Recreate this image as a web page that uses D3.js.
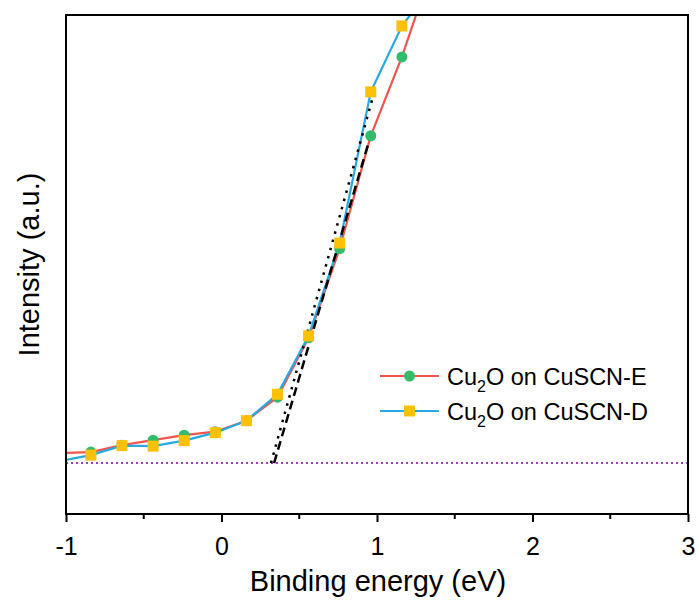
<!DOCTYPE html>
<html>
<head>
<meta charset="utf-8">
<script src="https://cdn.jsdelivr.net/npm/d3@7"></script>
<style>
  html, body { margin: 0; padding: 0; background: #fff; }
  svg { display: block; font-family: "Liberation Sans", Arial, sans-serif; }
</style>
</head>
<body>
<svg id="chart" width="699" height="610"></svg>
<script>
// ---- data ----
const energy = [-1.04, -0.84, -0.64, -0.44, -0.24, -0.04, 0.16, 0.36, 0.56, 0.76, 0.96, 1.16, 1.36];
const intensityE = [12.2, 12.4, 13.8, 14.8, 15.8, 16.5, 18.7, 23.4, 35.3, 53.2, 75.8, 91.6, 110];
const intensityD = [10.6, 11.8, 13.7, 13.6, 14.7, 16.3, 18.7, 24.0, 35.7, 54.3, 84.6, 97.8, 106];
const fitE = [[0.338, 10.2], [0.955, 75.4]];
const fitD = [[0.318, 10.2], [0.981, 84.4]];
const baseline = 10.2;
const xTicks = [-1, 0, 1, 2, 3];
const xMinor = [-0.5, 0.5, 1.5, 2.5];
const seriesNames = ["E", "D"];

// ---- layout ----
const svg = d3.select("#chart");
const L = 66, R = 688, T = 15, B = 514;
const x = d3.scaleLinear().domain([-1, 3]).range([L, R]);
const y = d3.scaleLinear().domain([0, 100]).range([B, T]);

svg.append("defs").append("clipPath").attr("id", "clip")
  .append("rect").attr("x", L).attr("y", T).attr("width", R - L).attr("height", B - T);

const plot = svg.append("g").attr("clip-path", "url(#clip)");

// baseline
plot.append("line")
  .attr("x1", L).attr("x2", R).attr("y1", y(baseline)).attr("y2", y(baseline))
  .attr("stroke", "#9b3fc4").attr("stroke-width", 2).attr("stroke-dasharray", "2,3");

const line = d3.line().x(d => x(d[0])).y(d => y(d[1]));
const dataE = energy.map((e, i) => [e, intensityE[i]]);
const dataD = energy.map((e, i) => [e, intensityD[i]]);

plot.append("path").datum(dataE).attr("d", line)
  .attr("fill", "none").attr("stroke", "#f2554d").attr("stroke-width", 2.2);
plot.append("path").datum(dataD).attr("d", line)
  .attr("fill", "none").attr("stroke", "#27a9e1").attr("stroke-width", 2.2);

// fit lines
plot.append("path").datum(fitE).attr("d", line)
  .attr("fill", "none").attr("stroke", "#000").attr("stroke-width", 2.5)
  .attr("stroke-dasharray", "9,5");
plot.append("path").datum(fitD).attr("d", line)
  .attr("fill", "none").attr("stroke", "#000").attr("stroke-width", 2.5)
  .attr("stroke-dasharray", "2.5,6");

// markers
plot.selectAll("circle.e").data(dataE).enter().append("circle")
  .attr("cx", d => x(d[0])).attr("cy", d => y(d[1])).attr("r", 5.5)
  .attr("fill", "#35bb6c");
plot.selectAll("rect.d").data(dataD).enter().append("rect")
  .attr("x", d => x(d[0]) - 5.5).attr("y", d => y(d[1]) - 5.5)
  .attr("width", 11).attr("height", 11).attr("fill", "#ffc107");

// frame
svg.append("rect").attr("x", L).attr("y", T).attr("width", R - L).attr("height", B - T)
  .attr("fill", "none").attr("stroke", "#000").attr("stroke-width", 2);

// bottom axis
const ax = svg.append("g").attr("transform", `translate(0,${B})`);
ax.call(d3.axisBottom(x).tickValues(xTicks).tickSize(8).tickFormat(d3.format("d")));
ax.select(".domain").remove();
ax.selectAll(".tick line").attr("stroke", "#000").attr("stroke-width", 2);
ax.selectAll(".tick text").attr("font-size", 25).attr("font-family", "Liberation Sans, Arial, sans-serif")
  .attr("fill", "#000").attr("y", 41).attr("dy", 0)
  .text(d => d < 0 ? "-" + Math.abs(d) : d);
ax.selectAll("line.minor").data(xMinor).enter().append("line")
  .attr("x1", d => x(d)).attr("x2", d => x(d)).attr("y1", 0).attr("y2", 5)
  .attr("stroke", "#000").attr("stroke-width", 2);

// axis titles
svg.append("text").attr("x", 378).attr("y", 591).attr("text-anchor", "middle")
  .attr("font-size", 29).attr("fill", "#000").text("Binding energy (eV)");
svg.append("text").attr("transform", `translate(39,${(T + B) / 2}) rotate(-90)`)
  .attr("text-anchor", "middle").attr("font-size", 29).attr("fill", "#000").text("Intensity (a.u.)");

// legend
const legend = [
  { name: seriesNames[0], color: "#f2554d", marker: "circle", mcolor: "#35bb6c", yy: 376 },
  { name: seriesNames[1], color: "#27a9e1", marker: "rect", mcolor: "#ffc107", yy: 411 }
];
legend.forEach(l => {
  const g = svg.append("g");
  g.append("line").attr("x1", 380).attr("x2", 439).attr("y1", l.yy).attr("y2", l.yy)
    .attr("stroke", l.color).attr("stroke-width", 2.2);
  if (l.marker === "circle") {
    g.append("circle").attr("cx", 409.5).attr("cy", l.yy).attr("r", 5.5).attr("fill", l.mcolor);
  } else {
    g.append("rect").attr("x", 404).attr("y", l.yy - 5.5).attr("width", 11).attr("height", 11).attr("fill", l.mcolor);
  }
  const t = g.append("text").attr("x", 447).attr("y", l.yy + 9).attr("font-size", 23.5).attr("fill", "#000");
  t.append("tspan").text("Cu");
  t.append("tspan").attr("font-size", 16).attr("dy", 7).text("2");
  t.append("tspan").attr("dy", -7).text("O on CuSCN-" + l.name);
});
</script>
</body>
</html>
